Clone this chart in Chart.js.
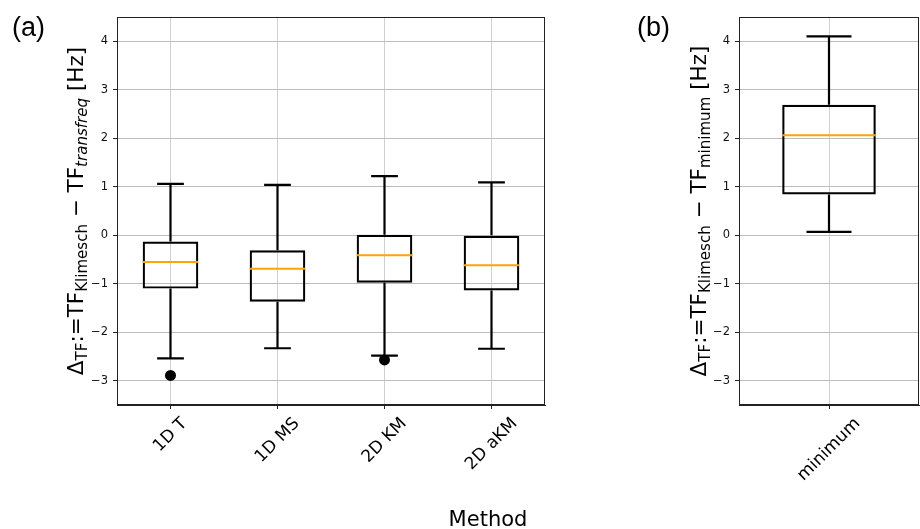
<!DOCTYPE html>
<html>
<head>
<meta charset="utf-8">
<script src="https://cdn.jsdelivr.net/npm/chart.js@4"></script>
<style>
  body { margin: 0; background: #fff; width: 920px; height: 529px; position: relative; overflow: hidden; }
  canvas { position: absolute; top: 0; }
  #ca { left: 0; }
  #cb { left: 600px; }
</style>
</head>
<body>
<canvas id="ca" width="560" height="529"></canvas>
<canvas id="cb" width="320" height="529"></canvas>
<script>
// panel (a): one box per method
const methods = ['1D T', '1D MS', '2D KM', '2D aKM'];
const whiskLo = [-2.54, -2.33, -2.48, -2.34];
const q1 = [-1.10, -1.37, -0.98, -1.14];
const med = [-0.55, -0.69, -0.41, -0.62];
const q3 = [-0.13, -0.31, 0.01, 0.00];
const whiskHi = [1.06, 1.04, 1.22, 1.09];
const fliers = [-2.89, null, -2.57, null];

// panel (b)
const minLabels = ['minimum'];
const minWhiskLo = [0.07];
const minQ1 = [0.84];
const minMed = [2.06];
const minQ3 = [2.69];
const minWhiskHi = [4.10];

const yTicks = [-3, -2, -1, 0, 1, 2, 3, 4];

const GRID = '#bcbcbc';
const AX = '#222';

function richLabel(ctx, cx, cy, parts, F) {
  ctx.save();
  ctx.translate(cx, cy);
  ctx.rotate(-Math.PI / 2);
  const fonts = parts.map(p => (p.i ? 'italic ' : '') + (p.s ? F * 0.7 : F) + 'px "DejaVu Sans"');
  const widths = parts.map((p, k) => { ctx.font = fonts[k]; return ctx.measureText(p.t).width; });
  let x = -widths.reduce((s, w) => s + w, 0) / 2;
  ctx.fillStyle = '#000';
  ctx.textAlign = 'left';
  ctx.textBaseline = 'alphabetic';
  parts.forEach((p, k) => {
    ctx.font = fonts[k];
    ctx.fillText(p.t, x, p.s ? 0.18 * F : 0);
    x += widths[k];
  });
  ctx.restore();
}

function boxPlugin(st, extra) {
  return {
    id: 'boxLines',
    afterDatasetsDraw(chart) {
      const ctx = chart.ctx;
      const xs = chart.scales.x, ys = chart.scales.y;
      const cw = xs.width / st.labels.length;
      const els = chart.getDatasetMeta(0).data;
      ctx.save();
      els.forEach((el, i) => {
        const px = el.x;
        const yHi = ys.getPixelForValue(st.hi[i]);
        const yLo = ys.getPixelForValue(st.lo[i]);
        ctx.lineWidth = 2.2;
        ctx.strokeStyle = '#000';
        ctx.beginPath();
        ctx.moveTo(px, ys.getPixelForValue(st.q3[i])); ctx.lineTo(px, yHi);
        ctx.moveTo(px, ys.getPixelForValue(st.q1[i])); ctx.lineTo(px, yLo);
        ctx.moveTo(px - cw / 8, yHi); ctx.lineTo(px + cw / 8, yHi);
        ctx.moveTo(px - cw / 8, yLo); ctx.lineTo(px + cw / 8, yLo);
        ctx.stroke();
        const ym = ys.getPixelForValue(st.med[i]);
        ctx.strokeStyle = '#ffa500';
        ctx.lineWidth = 2;
        ctx.beginPath();
        ctx.moveTo(px - el.width / 2, ym); ctx.lineTo(px + el.width / 2, ym);
        ctx.stroke();
      });
      ctx.restore();
    },
    afterDraw(chart) {
      const ctx = chart.ctx;
      const a = chart.chartArea;
      const xs = chart.scales.x;
      ctx.save();
      ctx.strokeStyle = AX;
      ctx.lineWidth = 1;
      ctx.strokeRect(Math.round(a.left) + 0.5, Math.round(a.top) + 0.5,
        Math.round(a.right - a.left) - 1, Math.round(a.bottom - a.top) - 1);

      // rotated category labels, centred under the tick like matplotlib
      const F = 17;
      ctx.font = F + 'px "DejaVu Sans"';
      ctx.fillStyle = '#000';
      ctx.textAlign = 'center';
      ctx.textBaseline = 'middle';
      st.labels.forEach((lbl, i) => {
        const x = xs.getPixelForTick(i);
        const w = ctx.measureText(lbl).width;
        const half = (w + 1.17 * F) * Math.SQRT1_2 / 2;
        ctx.save();
        ctx.translate(x, a.bottom + 9 + half);
        ctx.rotate(-Math.PI / 4);
        ctx.fillText(lbl, 0, 0);
        ctx.restore();
      });

      richLabel(ctx, extra.ylabX, (a.top + a.bottom) / 2, extra.ylab, 21.5);

      ctx.font = '27px "Liberation Sans"';
      ctx.textAlign = 'left';
      ctx.textBaseline = 'alphabetic';
      ctx.fillText(extra.panel, extra.panelX, 36);

      if (extra.xlab) {
        ctx.font = '21px "DejaVu Sans"';
        ctx.textAlign = 'center';
        ctx.fillText(extra.xlab, extra.xlabX, 526);
      }
      ctx.restore();
    }
  };
}

function makeChart(id, st, yW, padRight, extra) {
  return new Chart(document.getElementById(id), {
    type: 'bar',
    data: {
      labels: st.labels,
      datasets: [{
        data: st.labels.map((_, i) => [st.q1[i], st.q3[i]]),
        backgroundColor: 'rgba(0,0,0,0)',
        borderColor: '#000',
        borderWidth: 2.2,
        borderSkipped: false,
        barPercentage: 0.52,
        categoryPercentage: 1.0
      }, {
        type: 'line',
        data: st.out,
        showLine: false,
        pointRadius: 5.5,
        pointBackgroundColor: '#000',
        pointBorderColor: '#000',
        pointBorderWidth: 0
      }]
    },
    options: {
      responsive: false,
      animation: false,
      devicePixelRatio: 1,
      layout: { autoPadding: false, padding: { left: 0, top: 17, right: padRight, bottom: 0 } },
      plugins: { legend: { display: false }, tooltip: { enabled: false } },
      scales: {
        x: {
          type: 'category',
          offset: true,
          grid: { offset: false, color: '#d0d0d0', tickColor: AX, tickLength: 4, lineWidth: 1 },
          border: { color: AX },
          ticks: { display: false },
          afterFit: s => { s.height = 124; }
        },
        y: {
          min: -3.5,
          max: 4.5,
          afterBuildTicks: s => { s.ticks = yTicks.map(v => ({ value: v })); },
          afterFit: s => { s.width = yW; },
          grid: { color: GRID, tickColor: AX, tickLength: 4, lineWidth: 1 },
          border: { color: AX },
          ticks: {
            font: { family: 'DejaVu Sans', size: 11.5 },
            color: '#111',
            padding: 5,
            callback: v => String(v).replace('-', '\u2212')
          }
        }
      }
    },
    plugins: [boxPlugin(st, extra)]
  });
}

const labA = [
  { t: '\u0394' }, { t: 'TF', s: 1 }, { t: ':=' }, { t: 'TF' }, { t: 'Klimesch', s: 1 },
  { t: ' \u2212 ' }, { t: 'TF' }, { t: 'transfreq', s: 1, i: 1 }, { t: ' [Hz]' }
];
const labB = [
  { t: '\u0394' }, { t: 'TF', s: 1 }, { t: ':=' }, { t: 'TF' }, { t: 'Klimesch', s: 1 },
  { t: ' \u2212 ' }, { t: 'TF' }, { t: 'minimum', s: 1 }, { t: ' [Hz]' }
];

makeChart('ca', { labels: methods, lo: whiskLo, q1: q1, med: med, q3: q3, hi: whiskHi, out: fliers },
  117, 15, { ylab: labA, ylabX: 83, panel: '(a)', panelX: 12, xlab: 'Method', xlabX: 488 });

makeChart('cb', { labels: minLabels, lo: minWhiskLo, q1: minQ1, med: minMed, q3: minQ3, hi: minWhiskHi, out: [null] },
  139, 1, { ylab: labB, ylabX: 106, panel: '(b)', panelX: 37 });
</script>
</body>
</html>
